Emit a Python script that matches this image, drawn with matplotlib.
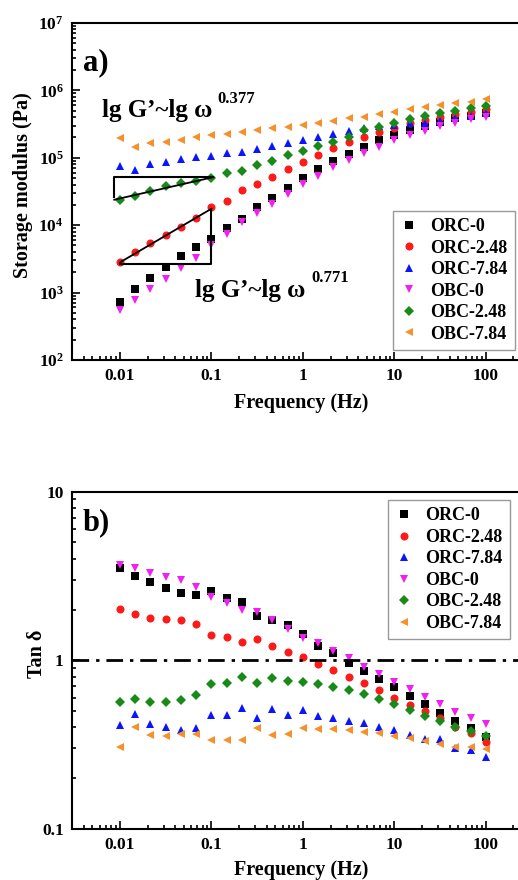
import matplotlib
matplotlib.use("Agg")
import matplotlib.pyplot as plt
from matplotlib.ticker import LogLocator, NullFormatter, FixedLocator, FixedFormatter

plt.rcParams['font.family'] = ['Liberation Serif', 'DejaVu Serif']
plt.rcParams['font.weight'] = 'bold'
plt.rcParams['mathtext.fontset'] = 'custom'
plt.rcParams['mathtext.rm'] = 'Liberation Serif:bold'
plt.rcParams['mathtext.it'] = 'Liberation Serif:bold:italic'
plt.rcParams['mathtext.bf'] = 'Liberation Serif:bold'

# Frequency sweep (Hz), 6 points per decade
freq = [0.01, 0.0147, 0.0215, 0.0316, 0.0464, 0.0681,
        0.1, 0.147, 0.215, 0.316, 0.464, 0.681,
        1, 1.47, 2.15, 3.16, 4.64, 6.81,
        10, 14.7, 21.5, 31.6, 46.4, 68.1, 100]

labels = ["ORC-0", "ORC-2.48", "ORC-7.84", "OBC-0", "OBC-2.48", "OBC-7.84"]
colors = ["black", "#ff1a1a", "#0a14ff", "#f020f0", "#178a17", "#f5902a"]
markers = ["s", "o", "^", "v", "D", "<"]
msizes = [5.6, 5.8, 6.2, 6.2, 4.8, 6.2]

# a) storage modulus G' (Pa)
g_orc0 = [735, 1117, 1667, 2427, 3490, 4700, 6310, 9190, 12360, 18400, 25600, 36000,
          49600, 67400, 88700, 115000, 146000, 184000, 220000, 258000, 296000, 340000,
          385000, 417000, 457000]
g_orc248 = [2877, 3950, 5380, 7160, 9300, 12640, 18400, 22900, 33300, 40800, 52500, 67400,
            85700, 110000, 138000, 169000, 206000, 244000, 280000, 325000, 364000, 408000,
            442000, 483000, 523000]
g_orc784 = [76400, 65900, 80000, 86700, 94900, 101600, 107600, 116000, 120000, 133600,
            149600, 167800, 183600, 206000, 223000, 250000, 273700, 296500, 306700, 324500,
            332000, 355600, 385000, 417000, 457000]
g_obc0 = [552, 776, 1117, 1592, 2290, 3300, 5080, 7310, 11270, 15000, 20600, 29000,
          40400, 53700, 72200, 92700, 116000, 146000, 181000, 218000, 253000, 296000,
          332000, 372000, 408000]
g_obc248 = [23650, 27400, 32500, 38600, 42800, 45800, 50700, 60100, 63600, 79000, 89600,
            110000, 127600, 151400, 173400, 206000, 258000, 290000, 332000, 372000, 417000,
            467000, 500000, 554000, 587000]
g_obc784 = [194500, 146000, 164000, 173400, 183600, 201000, 218000, 223000, 244000, 258000,
            280000, 290000, 306700, 332000, 355600, 385000, 408000, 442000, 483000, 523000,
            561000, 607000, 643000, 681000, 736000]

# b) loss tangent
t_orc0 = [3.54, 3.18, 2.93, 2.70, 2.52, 2.44, 2.58, 2.33, 2.21, 1.82, 1.73, 1.62, 1.43,
          1.22, 1.10, 0.969, 0.869, 0.771, 0.698, 0.615, 0.548, 0.485, 0.437, 0.395, 0.352]
t_orc248 = [2.01, 1.87, 1.79, 1.76, 1.73, 1.64, 1.41, 1.38, 1.28, 1.34, 1.22, 1.12, 1.04,
            0.951, 0.877, 0.800, 0.731, 0.667, 0.601, 0.544, 0.501, 0.457, 0.404, 0.369, 0.330]
t_orc784 = [0.414, 0.481, 0.420, 0.401, 0.386, 0.395, 0.474, 0.474, 0.519, 0.453, 0.512,
            0.474, 0.504, 0.468, 0.457, 0.439, 0.423, 0.404, 0.386, 0.361, 0.342, 0.340,
            0.301, 0.294, 0.268]
t_obc0 = [3.67, 3.51, 3.31, 3.13, 2.99, 2.73, 2.36, 2.20, 1.99, 1.94, 1.73, 1.53, 1.35,
          1.27, 1.14, 1.03, 0.910, 0.826, 0.748, 0.673, 0.609, 0.548, 0.497, 0.453, 0.418]
t_obc248 = [0.569, 0.590, 0.569, 0.569, 0.582, 0.623, 0.721, 0.731, 0.793, 0.731, 0.789,
            0.757, 0.741, 0.721, 0.698, 0.667, 0.631, 0.590, 0.548, 0.508, 0.468, 0.437,
            0.401, 0.381, 0.356]
t_obc784 = [0.305, 0.404, 0.361, 0.356, 0.366, 0.366, 0.337, 0.337, 0.337, 0.395, 0.361,
            0.364, 0.399, 0.392, 0.392, 0.386, 0.378, 0.369, 0.357, 0.345, 0.333, 0.318,
            0.308, 0.305, 0.298]

# slope guide triangles (x, y corners)
tri_green_x = [0.00867, 0.105]
tri_green_y = [26500, 52500]
tri_red_x = [0.01, 0.1]
tri_red_y = [2650, 16800]
fit_green = ([0.00867, 0.105], [23800, 51500])
fit_red = ([0.01, 0.1], [2800, 17500])

gp_series = [g_orc0, g_orc248, g_orc784, g_obc0, g_obc248, g_obc784]
tan_series = [t_orc0, t_orc248, t_orc784, t_obc0, t_obc248, t_obc784]

fig = plt.figure(figsize=(5.18, 8.8), dpi=100)
ax1 = fig.add_axes([0.139, 0.591, 0.8834, 0.383])
ax2 = fig.add_axes([0.139, 0.058, 0.8834, 0.3833])


def style_axes(ax):
    ax.set_xscale('log')
    ax.set_yscale('log')
    ax.set_xlim(0.00299, 300)
    for s in ax.spines.values():
        s.set_linewidth(1.5)
    ax.tick_params(which='both', direction='in', top=False, right=False,
                   labelsize=12.5, width=1.2, pad=6)
    ax.tick_params(which='major', length=6)
    ax.tick_params(which='minor', length=3)
    ax.xaxis.set_major_locator(FixedLocator([0.01, 0.1, 1, 10, 100]))
    ax.xaxis.set_major_formatter(FixedFormatter(["0.01", "0.1", "1", "10", "100"]))
    ax.xaxis.set_minor_locator(LogLocator(base=10, subs=range(2, 10), numticks=20))
    ax.xaxis.set_minor_formatter(NullFormatter())
    ax.set_xlabel("Frequency (Hz)", fontsize=14.5, fontweight='bold')


for ys, lab, c, m, ms in zip(gp_series, labels, colors, markers, msizes):
    ax1.plot(freq, ys, linestyle='none', marker=m, color=c, markersize=ms,
             markeredgewidth=0, label=lab)
style_axes(ax1)
ax1.set_ylim(1e2, 1e7)
ax1.yaxis.set_major_locator(LogLocator(base=10, numticks=10))
ax1.yaxis.set_minor_locator(LogLocator(base=10, subs=range(2, 10), numticks=20))
ax1.yaxis.set_minor_formatter(NullFormatter())
ax1.set_ylabel("Storage modulus (Pa)", fontsize=14.5, fontweight='bold')
ax1.yaxis.set_label_coords(-0.085, 0.52)
ax1.xaxis.set_label_coords(0.5, -0.098)

# slope triangles and fits
ax1.plot([tri_green_x[0], tri_green_x[0], tri_green_x[1]],
         [tri_green_y[0], tri_green_y[1], tri_green_y[1]], color='black', lw=1.5)
ax1.plot(fit_green[0], fit_green[1], color='black', lw=1.3)
ax1.plot([tri_red_x[0], tri_red_x[1], tri_red_x[1]],
         [tri_red_y[0], tri_red_y[0], tri_red_y[1]], color='black', lw=1.5)
ax1.plot(fit_red[0], fit_red[1], color='black', lw=1.3)

ax1.text(0.00635, 4.03e5, "lg G’~lg ω", fontsize=18, fontweight='bold',
         ha='left', va='baseline')
ax1.text(0.115, 6.5e5, "0.377", fontsize=12, fontweight='bold', ha='left', va='baseline')
ax1.text(0.066, 861, "lg G’~lg ω", fontsize=18, fontweight='bold',
         ha='left', va='baseline')
ax1.text(1.25, 1436, "0.771", fontsize=12, fontweight='bold', ha='left', va='baseline')
ax1.text(0.00394, 2.0e6, "a)", fontsize=22, fontweight='bold', ha='left', va='baseline')

leg1 = ax1.legend(loc='lower right', bbox_to_anchor=(0.968, 0.03), borderaxespad=0,
                  fontsize=13, frameon=True, fancybox=False, edgecolor='#808080',
                  handlelength=1.0, handletextpad=0.7, labelspacing=0.25,
                  borderpad=0.4, markerscale=1.0)
leg1.get_frame().set_linewidth(1.0)

for ys, lab, c, m, ms in zip(tan_series, labels, colors, markers, msizes):
    ax2.plot(freq, ys, linestyle='none', marker=m, color=c, markersize=ms,
             markeredgewidth=0, label=lab)
ax2.axhline(1.0, color='black', lw=2, linestyle=(0, (6, 2.5, 1.2, 2.5)))
style_axes(ax2)
ax2.set_ylim(0.1, 10)
ax2.yaxis.set_major_locator(FixedLocator([0.1, 1, 10]))
ax2.yaxis.set_major_formatter(FixedFormatter(["0.1", "1", "10"]))
ax2.yaxis.set_minor_locator(LogLocator(base=10, subs=range(2, 10), numticks=20))
ax2.yaxis.set_minor_formatter(NullFormatter())
ax2.set_ylabel("Tan δ", fontsize=14.5, fontweight='bold')
ax2.yaxis.set_label_coords(-0.055, 0.52)
ax2.xaxis.set_label_coords(0.5, -0.092)
ax2.text(0.00394, 5.93, "b)", fontsize=22, fontweight='bold', ha='left', va='baseline')

leg2 = ax2.legend(loc='upper right', bbox_to_anchor=(0.957, 0.975), borderaxespad=0,
                  fontsize=13, frameon=True, fancybox=False, edgecolor='#808080',
                  handlelength=1.0, handletextpad=0.7, labelspacing=0.25,
                  borderpad=0.4, markerscale=1.0)
leg2.get_frame().set_linewidth(1.0)

fig.savefig("out.png", dpi=100)
